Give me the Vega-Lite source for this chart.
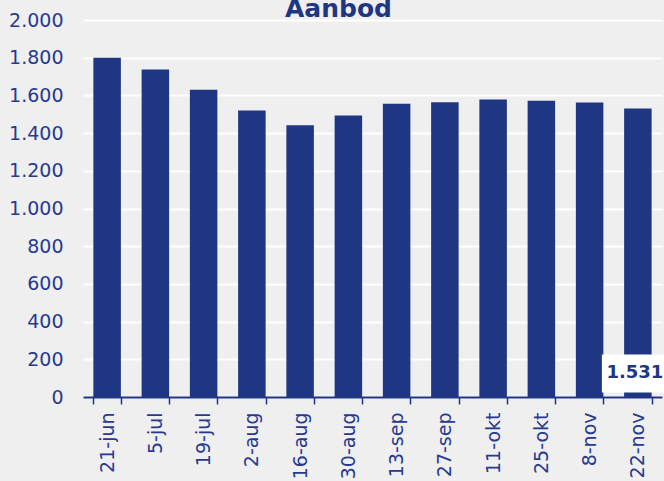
{
  "$schema": "https://vega.github.io/schema/vega-lite/v6.json",
  "autosize": "none",
  "width": 579,
  "height": 377,
  "padding": {"left": 83, "top": 20, "right": 2, "bottom": 84},
  "background": "#efefef",
  "config": {
    "view": {"stroke": null},
    "font": "DejaVu Sans",
    "locale": {"number": {"decimal": ",", "thousands": ".", "grouping": [3], "currency": ["€", ""]}},
    "axisY": {
      "title": null,
      "labelFontSize": 19,
      "labelColor": "#263a8f",
      "labelPadding": 20,
      "domain": false,
      "ticks": false,
      "gridColor": "#ffffff",
      "gridWidth": 2,
      "gridOpacity": 1
    },
    "axisX": {
      "title": null,
      "labelAngle": -90,
      "labelAlign": "right",
      "labelBaseline": "middle",
      "labelFontSize": 19,
      "labelColor": "#263a8f",
      "labelPadding": 8,
      "tickBand": "extent",
      "tickSize": 7,
      "tickColor": "#1f3683",
      "tickWidth": 1.5,
      "domainColor": "#1f3683",
      "domainWidth": 2,
      "grid": false
    }
  },
  "title": {
    "text": "Aanbod",
    "fontSize": 25,
    "fontWeight": "bold",
    "color": "#1f3683",
    "font": "DejaVu Sans",
    "anchor": "middle",
    "dx": -34,
    "dy": 31,
    "offset": 0,
    "baseline": "alphabetic"
  },
  "data": {
    "values": [
      {"date": "21-jun", "value": 1800},
      {"date": "5-jul", "value": 1737},
      {"date": "19-jul", "value": 1630},
      {"date": "2-aug", "value": 1520},
      {"date": "16-aug", "value": 1442},
      {"date": "30-aug", "value": 1494},
      {"date": "13-sep", "value": 1556},
      {"date": "27-sep", "value": 1564},
      {"date": "11-okt", "value": 1578},
      {"date": "25-okt", "value": 1571},
      {"date": "8-nov", "value": 1562},
      {"date": "22-nov", "value": 1531}
    ]
  },
  "encoding": {
    "x": {
      "field": "date",
      "type": "nominal",
      "sort": null,
      "scale": {"paddingInner": 0.43, "paddingOuter": 0.215}
    }
  },
  "resolve": {"axis": {"y": "independent"}},
  "layer": [
    {
      "mark": {"type": "bar", "color": "#1f3683"},
      "encoding": {
        "y": {
          "field": "value",
          "type": "quantitative",
          "scale": {"domain": [0, 2000], "nice": false},
          "axis": {
            "values": [0, 200, 400, 600, 800, 1000, 1200, 1400, 1600, 1800, 2000],
            "format": ",.0f",
            "labelOverlap": false
          }
        }
      }
    },
    {
      "transform": [{"filter": "datum.date === '22-nov'"}],
      "mark": {"type": "bar", "color": "#ffffff", "width": 72},
      "encoding": {
        "y": {"datum": 24, "type": "quantitative", "axis": null},
        "y2": {"datum": 225}
      }
    },
    {
      "transform": [{"filter": "datum.date === '22-nov'"}],
      "mark": {"type": "text", "fontWeight": "bold", "fontSize": 18, "color": "#1f3683", "dx": -3},
      "encoding": {
        "y": {"datum": 125, "type": "quantitative", "axis": null},
        "text": {"field": "value", "type": "quantitative", "format": ",.0f"}
      }
    }
  ]
}
